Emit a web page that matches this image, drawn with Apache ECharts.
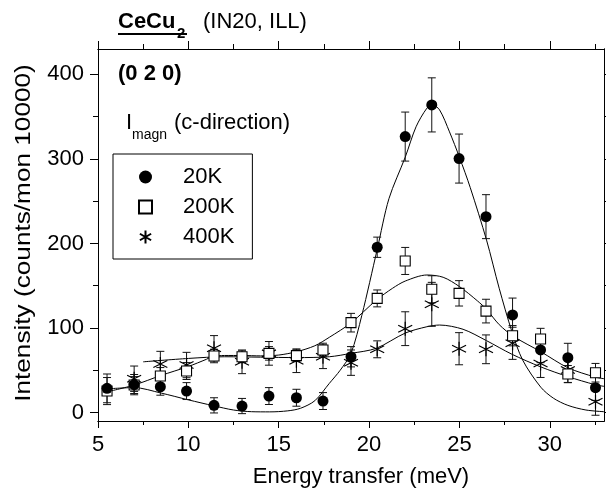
<!DOCTYPE html>
<html>
<head>
<meta charset="utf-8">
<script src="https://cdn.jsdelivr.net/npm/echarts@6/dist/echarts.min.js"></script>
<style>
html,body{margin:0;padding:0;background:#fff;}
#chart{width:606px;height:494px;}
</style>
</head>
<body>
<div id="chart"></div>
<script>
// ---- data ----
const x20 = [5.5, 7.0, 8.45, 9.9, 11.42, 12.97, 14.46, 15.98, 17.45, 19.0, 20.45, 22.0, 23.47, 24.98, 26.47, 27.94, 29.49, 31.0, 32.53];
const y20 = [28.6, 33, 30.5, 25.4, 8.5, 7.7, 19.5, 17.5, 13.6, 66, 195.5, 326.4, 363.9, 300.4, 231.7, 115.4, 74, 64.9, 29.4];
const e20 = [17, 12, 10, 10, 9, 9, 10, 10, 10, 12, 12, 29, 32, 29, 26, 20, 15, 17, 15];

const x200 = [5.5, 7.0, 8.45, 9.9, 11.42, 12.97, 14.46, 15.98, 17.45, 19.0, 20.45, 22.0, 23.47, 24.98, 26.47, 27.94, 29.49, 31.0, 32.53];
const y200 = [25.4, 32.5, 43.2, 49.1, 66.9, 66, 70, 67.3, 74, 106.3, 135, 179.3, 145.8, 141, 120, 90.9, 87, 45.6, 47.1];
const e200 = [16, 10, 10, 10, 8, 7, 8, 7, 8, 11, 10, 16, 16, 15, 14, 12, 12.6, 10, 11];

const x400 = [7.0, 8.45, 9.9, 11.42, 12.97, 14.46, 15.98, 17.45, 19.0, 20.45, 22.0, 23.47, 24.98, 26.47, 27.94, 29.49, 31.0, 32.53];
const y400 = [40, 57.4, 56.2, 76, 60, 70, 61.3, 66, 59, 74.8, 99.2, 128, 75.5, 74.8, 81.9, 58, 50.3, 12.8];
const e400 = [15, 15, 15, 15, 14, 14, 14, 14, 15, 10, 20, 26, 19, 17, 19, 16.5, 15, 16];

// fitted curves
const fit20X = [5.5, 7, 8.5, 10, 11.4, 12.5, 13.5, 14.5, 15.5, 16.2, 17, 17.8, 18.4, 19, 19.6, 20.45, 21.1, 22, 22.6, 23.2, 23.5, 23.9, 24.45, 25, 25.6, 26.5, 27.2, 27.9, 28.5, 29.5, 30.2, 31, 32, 33];
const fit20Y = [28, 29.5, 23, 15, 8, 3, 1, 0.8, 2, 5, 14, 34.5, 50, 70, 115, 193, 253, 302, 338, 360, 364, 358, 332, 302, 266, 204, 147, 96, 62, 30, 17, 8.5, 3, 1];
const fit200X = [5.5, 7, 8.5, 10, 11, 11.3, 12, 13, 14, 15, 16, 17, 17.8, 19, 20.4, 21.3, 22, 23.2, 24.1, 25, 26, 26.5, 27.2, 28, 29.5, 31, 32.5, 33];
const fit200Y = [24.5, 32.5, 44, 54.5, 63, 66, 67.5, 67.5, 67, 68, 72, 79, 89, 106, 133, 147, 155.5, 162.7, 160, 149, 132, 122, 104, 90, 72, 53, 42, 40];
const fit400X = [7.5, 10, 12, 14, 16, 17.8, 19, 20.4, 22, 23.2, 23.9, 25.2, 26.5, 27.9, 29.5, 31, 32.5, 33];
const fit400Y = [60, 64, 66, 65.5, 65, 66, 70, 76, 94, 101.5, 103.5, 98.5, 85, 69, 54, 42.5, 33, 31];

// axis ticks
const xMajor = [5, 10, 15, 20, 25, 30];
const xMinor = [7.5, 12.5, 17.5, 22.5, 27.5, 32.5];
const yMajor = [0, 100, 200, 300, 400];
const yMinor = [50, 150, 250, 350];

const FONT = "'Liberation Sans', Arial, Helvetica, sans-serif";
const STAR = 'path://M10,0 L10,20 M1.34,5 L18.66,15 M1.34,15 L18.66,5';

const zip = (xs, ys) => xs.map((x, i) => [x, ys[i]]);
const zip3 = (xs, ys, es) => xs.map((x, i) => [x, ys[i], es[i]]);

function xAx(pos, ticks, len, showLabel) {
  return {
    type: 'value', position: pos, min: 5, max: 33,
    axisLine: { show: true, onZero: false, lineStyle: { color: '#000', width: 1 } },
    axisTick: { show: true, inside: false, length: len, customValues: ticks, lineStyle: { color: '#000', width: 1 } },
    axisLabel: { show: showLabel, customValues: ticks, margin: 13, color: '#000', fontSize: 22, fontFamily: FONT },
    splitLine: { show: false }
  };
}
function yAx(pos, ticks, len, showLabel) {
  return {
    type: 'value', position: pos, min: -10, max: 430,
    axisLine: { show: true, onZero: false, lineStyle: { color: '#000', width: 1 } },
    axisTick: { show: true, inside: false, length: len, customValues: ticks, lineStyle: { color: '#000', width: 1 } },
    axisLabel: { show: showLabel, customValues: ticks, margin: 14, color: '#000', fontSize: 22, fontFamily: FONT },
    splitLine: { show: false }
  };
}

function errRender(params, api) {
  const x = api.value(0), y = api.value(1), e = api.value(2);
  const t = api.coord([x, y + e]);
  const b = api.coord([x, y - e]);
  const hw = 4;
  const st = { stroke: '#111', lineWidth: 1 };
  return {
    type: 'group',
    children: [
      { type: 'line', shape: { x1: t[0], y1: t[1], x2: b[0], y2: b[1] }, style: st },
      { type: 'line', shape: { x1: t[0] - hw, y1: t[1], x2: t[0] + hw, y2: t[1] }, style: st },
      { type: 'line', shape: { x1: b[0] - hw, y1: b[1], x2: b[0] + hw, y2: b[1] }, style: st }
    ]
  };
}

const chart = echarts.init(document.getElementById('chart'), null, { renderer: 'canvas' });
const lineStyle = { color: '#000', width: 1 };

chart.setOption({
  animation: false,
  backgroundColor: '#fff',
  textStyle: { fontFamily: FONT },
  grid: { left: 98, right: 2, top: 49, bottom: 73, containLabel: false },
  xAxis: [
    xAx('bottom', xMajor, 7, true),
    xAx('bottom', xMinor, 4, false),
    xAx('top', xMajor, 8, false),
    xAx('top', xMinor, 5, false)
  ],
  yAxis: [
    yAx('left', yMajor, 8, true),
    yAx('left', yMinor, 5, false),
    yAx('right', yMajor, 8, false),
    yAx('right', yMinor, 5, false)
  ],
  legend: {
    orient: 'vertical', left: 113, top: 154,
    padding: [12, 18, 11, 25], itemGap: 8,
    itemWidth: 13, itemHeight: 13,
    borderColor: '#000', borderWidth: 1,
    selectedMode: false,
    textStyle: { fontSize: 22, color: '#000', fontFamily: FONT, padding: [0, 0, 0, 26], lineHeight: 22 },
    data: ['20K', '200K', '400K']
  },
  graphic: [
    { type: 'text', left: 118, top: 11, style: { text: 'CeCu', font: 'bold 22px ' + FONT, fill: '#000' } },
    { type: 'text', left: 177, top: 26, style: { text: '2', font: 'bold 15px ' + FONT, fill: '#000' } },
    { type: 'line', shape: { x1: 118, y1: 34, x2: 187, y2: 34 }, style: { stroke: '#000', lineWidth: 2 } },
    { type: 'text', left: 203, top: 11, style: { text: '(IN20, ILL)', font: '22px ' + FONT, fill: '#000' } },
    { type: 'text', left: 118, top: 63, style: { text: '(0 2 0)', font: 'bold 22px ' + FONT, fill: '#000' } },
    { type: 'text', left: 126, top: 112, style: { text: 'I', font: '22px ' + FONT, fill: '#000' } },
    { type: 'text', left: 132, top: 128, style: { text: 'magn', font: '14px ' + FONT, fill: '#000' } },
    { type: 'text', left: 174, top: 112, style: { text: '(c-direction)', font: '22px ' + FONT, fill: '#000' } },
    { type: 'text', x: 24, y: 233, rotation: Math.PI / 2, scaleX: 1.19,
      style: { text: 'Intensity (counts/mon 10000)', font: '22px ' + FONT, fill: '#000', align: 'center', verticalAlign: 'middle' } },
    { type: 'text', x: 361, y: 477,
      style: { text: 'Energy transfer (meV)', font: '22px ' + FONT, fill: '#000', align: 'center', verticalAlign: 'middle' } }
  ],
  series: [
    { name: 'fit 20K', type: 'line', data: zip(fit20X, fit20Y), smooth: 0.3, showSymbol: false, lineStyle, itemStyle: { color: '#000' }, z: 2, clip: true },
    { name: 'fit 200K', type: 'line', data: zip(fit200X, fit200Y), smooth: 0.3, showSymbol: false, lineStyle, itemStyle: { color: '#000' }, z: 2, clip: true },
    { name: 'fit 400K', type: 'line', data: zip(fit400X, fit400Y), smooth: 0.3, showSymbol: false, lineStyle, itemStyle: { color: '#000' }, z: 2, clip: true },
    { name: 'err 20K', type: 'custom', renderItem: errRender, data: zip3(x20, y20, e20), z: 3, encode: { x: 0, y: 1 } },
    { name: 'err 200K', type: 'custom', renderItem: errRender, data: zip3(x200, y200, e200), z: 3, encode: { x: 0, y: 1 } },
    { name: 'err 400K', type: 'custom', renderItem: errRender, data: zip3(x400, y400, e400), z: 3, encode: { x: 0, y: 1 } },
    { name: '400K', type: 'scatter', data: zip(x400, y400), symbol: STAR, symbolSize: 14,
      itemStyle: { color: '#000', borderColor: '#000', borderWidth: 1.2, opacity: 1 }, z: 4 },
    { name: '200K', type: 'scatter', data: zip(x200, y200), symbol: 'rect', symbolSize: 10,
      itemStyle: { color: '#fff', borderColor: '#000', borderWidth: 1.1, opacity: 1 }, z: 5 },
    { name: '20K', type: 'scatter', data: zip(x20, y20), symbol: 'circle', symbolSize: 11,
      itemStyle: { color: '#000', opacity: 1 }, z: 6 }
  ]
});
</script>
</body>
</html>
